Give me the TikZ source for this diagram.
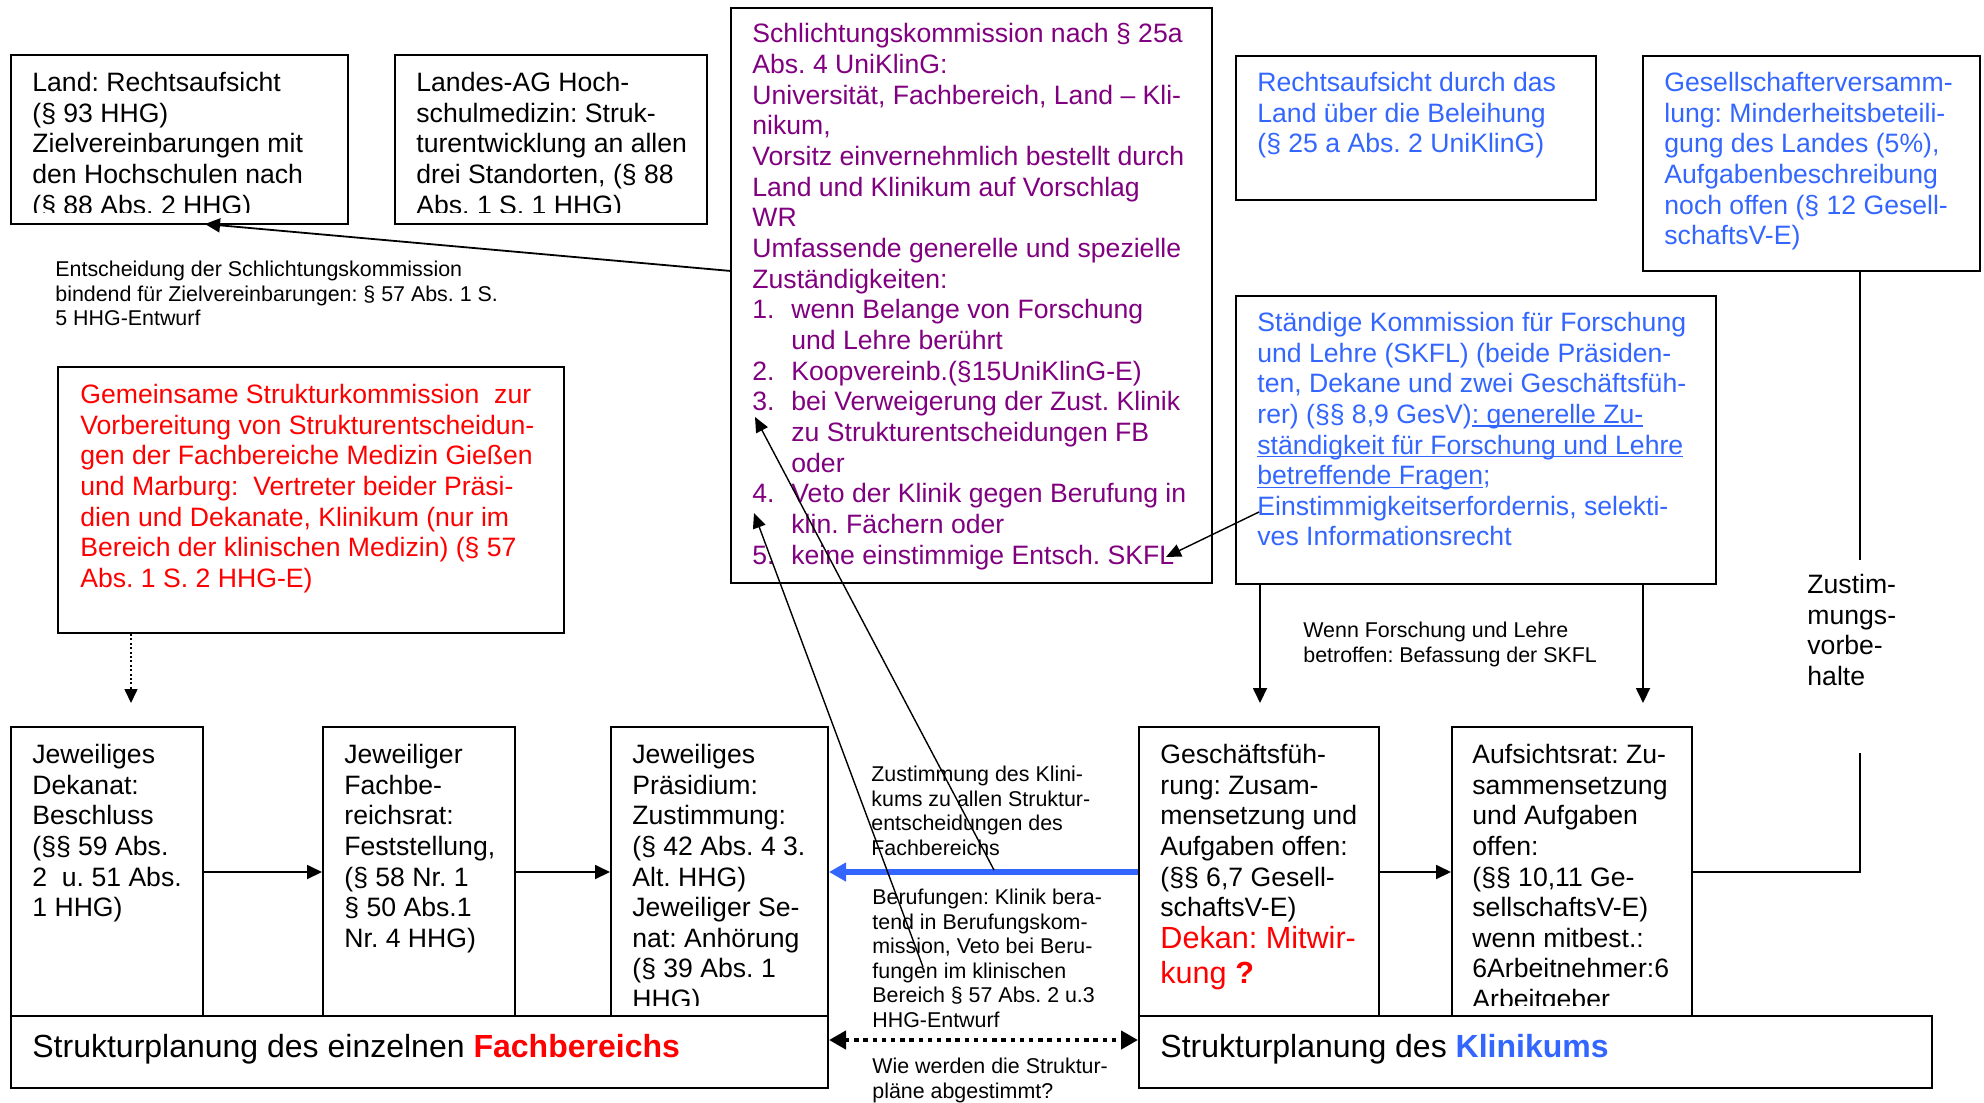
\documentclass[tikz,border=0pt]{standalone}
\usepackage{fontspec}
\setmainfont{Liberation Sans}
\usetikzlibrary{arrows.meta,fit}
\definecolor{kpurple}{RGB}{128,0,128}
\definecolor{kblue}{RGB}{51,102,255}
\definecolor{kred}{RGB}{255,0,0}
\newcommand\kmain{\fontsize{13.3pt}{15.33pt}\selectfont\frenchspacing}
\newcommand\ksmall{\fontsize{10.7pt}{12.3pt}\selectfont\frenchspacing}
\newcommand\kbig{\fontsize{15.3pt}{17.5pt}\selectfont\frenchspacing}
\newcommand\khuge{\fontsize{16pt}{18pt}\selectfont\frenchspacing}
\newcommand\kbox[5]{\path (#2,#3) coordinate (#1-nw) (#4,#5) coordinate (#1-se);
  \node[kboxst, fit=(#1-nw)(#1-se)] (#1) {};}
\newcommand\knum[1]{\makebox[19.5pt][l]{#1}}
\newsavebox\kulbox
\newcommand\kul[1]{\sbox\kulbox{#1}\rlap{\rule[-1.7pt]{\wd\kulbox}{0.65pt}}\usebox\kulbox}
\tikzset{
  kboxst/.style={draw, line width=1pt, inner sep=0pt},
  ktxt/.style={anchor=north west, inner sep=0pt, align=left, font=\kmain},
  kstxt/.style={anchor=north west, inner sep=0pt, align=left, font=\ksmall},
  kconn/.style={line width=0.9pt, -{Triangle[length=7.5pt,width=7pt]}},
  kthin/.style={line width=0.7pt, -{Triangle[length=7.5pt,width=6.5pt]}},
  kline/.style={line width=0.9pt},
  kbluearr/.style={line width=3pt, draw=kblue, -{Triangle[length=8.5pt,width=9pt]}},
  kdots/.style={line width=2.2pt, dash pattern=on 2.2pt off 2.4pt,
     {Triangle[length=8.5pt,width=9pt]}-{Triangle[length=8.5pt,width=9pt]}},
  kdotarr/.style={line width=0.8pt, dash pattern=on 1pt off 1.2pt, -{Triangle[length=7pt,width=6.5pt]}},
}
\begin{document}
\frenchspacing
\begin{tikzpicture}[x=0.5pt,y=-0.5pt]
\path[use as bounding box, fill=white] (0,0) rectangle (1984,1102);

% ---------- boxes ----------
\kbox{land}{11}{55}{348}{224}
\kbox{lag}{395}{55}{707}{224}
\kbox{schl}{731}{8}{1212}{583}
\kbox{recht}{1236}{56}{1596}{200}
\kbox{ges}{1643}{56}{1980}{271}
\kbox{skfl}{1236}{296}{1716}{584}
\kbox{gem}{58}{367}{564}{633}
\kbox{dek}{11}{727}{203}{1016}
\kbox{fbr}{323}{727}{515}{1016}
\kbox{praes}{611}{727}{828}{1016}
\kbox{spfb}{11}{1016}{828}{1088}
\kbox{gf}{1139}{727}{1379}{1016}
\kbox{aufs}{1452}{727}{1692}{1016}
\kbox{spkl}{1139}{1016}{1932}{1088}

% ---------- box texts ----------
\begin{scope}
\clip (12,56) rectangle (347,212);
\node[ktxt] (landT) at (32,69.5) {\strut Land: Rechtsaufsicht\\(§ 93 HHG)\\Zielvereinbarungen mit\\den Hochschulen nach\\(§ 88 Abs. 2 HHG)};
\end{scope}
\begin{scope}
\clip (396,56) rectangle (706,212);
\node[ktxt] (lagT) at (416,69.5) {\strut Landes-AG Hoch-\\schulmedizin: Struk-\\turentwicklung an allen\\drei Standorten, (§ 88\\Abs. 1 S. 1 HHG)};
\end{scope}

\node[ktxt, text=kpurple] (schlT) at (752,21) {\strut Schlichtungskommission nach § 25a\\Abs. 4 UniKlinG:\\Universität, Fachbereich, Land – Kli-\\nikum,\\Vorsitz einvernehmlich bestellt durch\\Land und Klinikum auf Vorschlag\\WR\\Umfassende generelle und spezielle\\Zuständigkeiten:\\\knum{1.}wenn Belange von Forschung\\\knum{}und Lehre berührt\\\knum{2.}Koopvereinb.(§15UniKlinG-E)\\\knum{3.}bei Verweigerung der Zust. Klinik\\\knum{}zu Strukturentscheidungen FB\\\knum{}oder\\\knum{4.}Veto der Klinik gegen Berufung in\\\knum{}klin. Fächern oder\\\knum{5.}keine einstimmige Entsch. SKFL};

\node[ktxt, text=kblue] (rechtT) at (1257,69.5) {\strut Rechtsaufsicht durch das\\Land über die Beleihung\\(§ 25 a Abs. 2 UniKlinG)};

\node[ktxt, text=kblue] (gesT) at (1664,69.5) {\strut Gesellschafterversamm-\\lung: Minderheitsbeteili-\\gung des Landes (5\%),\\Aufgabenbeschreibung\\noch offen (§ 12 Gesell-\\schaftsV-E)};

\node[ktxt, text=kblue] (skflT) at (1257,309.5) {\strut Ständige Kommission für Forschung\\und Lehre (SKFL) (beide Präsiden-\\ten, Dekane und zwei Geschäftsfüh-\\rer) (§§ 8,9 GesV)\kul{: generelle Zu-}\\\kul{ständigkeit für Forschung und Lehre}\\\kul{betreffende Fragen};\\Einstimmigkeitserfordernis, selekti-\\ves Informationsrecht};

\node[ktxt, text=kred] (gemT) at (80,381.5) {\strut Gemeinsame Strukturkommission\ \ zur\\Vorbereitung von Strukturentscheidun-\\gen der Fachbereiche Medizin Gießen\\und Marburg:\ \ Vertreter beider Präsi-\\dien und Dekanate, Klinikum (nur im\\Bereich der klinischen Medizin) (§ 57\\Abs. 1 S. 2 HHG-E)};

\node[ktxt] (dekT) at (32,741.5) {\strut Jeweiliges\\Dekanat:\\Beschluss\\(§§ 59 Abs.\\2\ \ u. 51 Abs.\\1 HHG)};

\node[ktxt] (fbrT) at (344,741.5) {\strut Jeweiliger\\Fachbe-\\reichsrat:\\Feststellung,\\(§ 58 Nr. 1\\§ 50 Abs.1\\Nr. 4 HHG)};

\begin{scope}
\clip (612,728) rectangle (827,1005);
\node[ktxt] (praesT) at (632,741.5) {\strut Jeweiliges\\Präsidium:\\Zustimmung:\\(§ 42 Abs. 4 3.\\Alt. HHG)\\Jeweiliger Se-\\nat: Anhörung\\(§ 39 Abs. 1\\HHG)};
\end{scope}

\node[ktxt] (gfT) at (1160,741.5) {\strut Geschäftsfüh-\\rung: Zusam-\\mensetzung und\\Aufgaben offen:\\(§§ 6,7 Gesell-\\schaftsV-E)};
\node[ktxt, font=\kbig, text=kred] (gfR) at (1160,923.5) {\strut Dekan: Mitwir-\\kung \textbf{?}};

\begin{scope}
\clip (1453,728) rectangle (1691,1005);
\node[ktxt] (aufsT) at (1472,741.5) {\strut Aufsichtsrat: Zu-\\sammensetzung\\und Aufgaben\\offen:\\(§§ 10,11 Ge-\\sellschaftsV-E)\\wenn mitbest.:\\6Arbeitnehmer:6\\Arbeitgeber};
\end{scope}

\node[ktxt, font=\khuge] (spfbT) at (32,1031.8) {\strut Strukturplanung des einzelnen {\bfseries\color{kred}Fachbereichs}};
\node[ktxt, font=\khuge] (spklT) at (1160,1031.8) {\strut Strukturplanung des {\bfseries\color{kblue}Klinikums}};

% ---------- free labels ----------
\node[kstxt] (entsch) at (55,258.8) {\strut Entscheidung der Schlichtungskommission\\bindend für Zielvereinbarungen: § 57 Abs. 1 S.\\5 HHG-Entwurf};
\node[kstxt] (zust) at (871,763.8) {\strut Zustimmung des Klini-\\kums zu allen Struktur-\\entscheidungen des\\Fachbereichs};
\node[kstxt] (beruf) at (872,886.8) {\strut Berufungen: Klinik bera-\\tend in Berufungskom-\\mission, Veto bei Beru-\\fungen im klinischen\\Bereich § 57 Abs. 2 u.3\\HHG-Entwurf};
\node[kstxt] (wie) at (872,1055.8) {\strut Wie werden die Struktur-\\pläne abgestimmt?};
\node[kstxt] (wenn) at (1303,619.8) {\strut Wenn Forschung und Lehre\\betroffen: Befassung der SKFL};
\node[ktxt] (zvb) at (1807,571.5) {\strut Zustim-\\mungs-\\vorbe-\\halte};

% ---------- coordinates ----------
\coordinate (a1s) at (731,271);
\coordinate (a1e) at (205,224);
\coordinate (g1) at (131,703);
\coordinate (s1) at (1260,703);
\coordinate (s2) at (1643,703);
\coordinate (zb) at (1860,753);
\coordinate (zt) at (1860,560);
\coordinate (k1) at (1259,512);
\coordinate (k2) at (1166,557);
\coordinate (l1s) at (994,870);
\coordinate (l1e) at (755,417);
\coordinate (l2s) at (923,967);
\coordinate (l2e) at (754,513);

% ---------- connectors ----------
\draw[kconn] (a1s) -- (a1e);
\draw[kdotarr] (gem.south -| g1) -- (g1);
\draw[kconn] (dek.east |- 0,872) -- (fbr.west |- 0,872);
\draw[kconn] (fbr.east |- 0,872) -- (praes.west |- 0,872);
\draw[kbluearr] (gf.west |- 0,872) -- (praes.east |- 0,872);
\draw[kconn] (gf.east |- 0,872) -- (aufs.west |- 0,872);
\draw[kline] (aufs.east |- 0,872) -| (zb);
\draw[kline] (ges.south -| zt) -- (zt);
\draw[kconn] (skfl.south -| s1) -- (s1);
\draw[kconn] (skfl.south -| s2) -- (s2);
\draw[kdots] (spfb.east |- 0,1040) -- (spkl.west |- 0,1040);
\draw[kthin] (k1) -- (k2);
\draw[kthin] (l1s) -- (l1e);
\draw[kthin] (l2s) -- (l2e);
\end{tikzpicture}
\end{document}
